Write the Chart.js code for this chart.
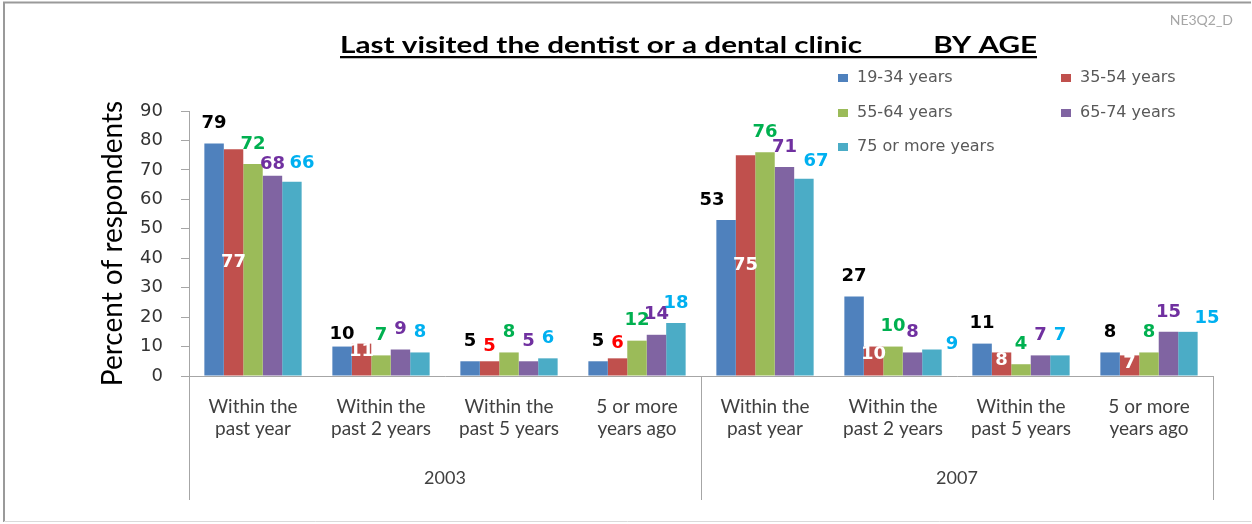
<!DOCTYPE html>
<html><head><meta charset="utf-8">
<script src="https://cdn.jsdelivr.net/npm/chart.js@4/dist/chart.umd.min.js"></script>
<style>html,body{margin:0;padding:0;background:#fff;overflow:hidden}#wrap{position:relative;width:1252px;height:524px}</style>
</head><body><div id="wrap"><canvas id="c" width="1252" height="524"></canvas></div>
<script>
const chartTitle = 'Last visited the dentist or a dental clinic';
const chartTitle2 = 'BY AGE';
const chartCode = 'NE3Q2_D';
const yAxisTitle = 'Percent of respondents';
const years = ['2003', '2007'];
const periods = [['Within the', 'past year'], ['Within the', 'past 2 years'], ['Within the', 'past 5 years'], ['5 or more', 'years ago']];
const categories = [...periods, ...periods];
const seriesNames = ['19-34 years', '35-54 years', '55-64 years', '65-74 years', '75 or more years'];
const age19to34 = [79, 10, 5, 5, 53, 27, 11, 8];
const age35to54 = [77, 11, 5, 6, 75, 10, 8, 7];
const age55to64 = [72, 7, 8, 12, 76, 10, 4, 8];
const age65to74 = [68, 9, 5, 14, 71, 8, 7, 15];
const age75plus = [66, 8, 6, 18, 67, 9, 7, 15];
const yTicks = [0, 10, 20, 30, 40, 50, 60, 70, 80, 90];

const seriesValues = [age19to34, age35to54, age55to64, age65to74, age75plus];
const barColors = ['#4F81BD', '#C0504D', '#9BBB59', '#8064A2', '#4BACC6'];
const labelColors = ['#000000', '#FF0000', '#00B050', '#7030A0', '#00B0F0'];
// small manual label nudges (series:index -> [dx, dy]) as in the original chart
const labelNudges = { '0:1': [0, 8], '0:4': [-14, 0], '3:0': [0, 9], '4:0': [10, 2], '4:4': [12, 3], '4:5': [20, 15], '4:7': [19, 6] };

const decor = {
  id: 'decor',
  afterDraw(chart) {
    const c = chart.ctx;
    c.save();
    // frame
    c.strokeStyle = '#9A9A9A'; c.lineWidth = 2;
    c.beginPath(); c.moveTo(4, 522); c.lineTo(4, 2.5); c.lineTo(1251, 2.5); c.stroke();
    c.strokeStyle = '#DADADA'; c.lineWidth = 1;
    c.beginPath(); c.moveTo(4, 521.5); c.lineTo(1251, 521.5); c.stroke();
    // code
    c.font = '14px Lato'; c.fillStyle = '#A6A6A6'; c.textAlign = 'right'; c.textBaseline = 'alphabetic';
    c.fillText(chartCode, 1233, 25);
    // title (horizontally stretched like the original)
    c.font = 'bold 22px Lato'; c.fillStyle = '#000'; c.textAlign = 'left';
    const w1 = c.measureText(chartTitle).width;
    const sx = 522 / w1;
    c.save(); c.translate(340, 53); c.scale(sx, 1);
    c.fillText(chartTitle, 0, 0);
    c.restore();
    const w2 = c.measureText(chartTitle2).width * sx;
    c.save(); c.translate(1037 - w2, 53); c.scale(sx, 1);
    c.fillText(chartTitle2, 0, 0);
    c.restore();
    c.fillStyle = '#000'; c.fillRect(340, 56, 697, 2);
    c.fillStyle = '#BBBBBB'; c.fillRect(340, 58, 697, 1);
    // legend
    const cols = [838, 1061], rows = [78, 113, 147];
    c.font = '16px "DejaVu Sans"'; c.textBaseline = 'middle'; c.textAlign = 'left';
    chart.data.datasets.forEach((ds, i) => {
      const x = cols[i % 2], y = rows[Math.floor(i / 2)];
      c.fillStyle = ds.backgroundColor; c.fillRect(x, y - 4, 10, 8);
      c.fillStyle = '#595959'; c.fillText(ds.label, x + 19, y);
    });
    // group separators
    const xs = chart.scales.x;
    const mid = (xs.getPixelForValue(3) + xs.getPixelForValue(4)) / 2;
    c.strokeStyle = '#A6A6A6'; c.lineWidth = 1;
    c.beginPath();
    [xs.left, mid, xs.right].forEach(px => { const p = Math.round(px) + 0.5; c.moveTo(p, xs.top); c.lineTo(p, 500); });
    c.stroke();
    // data labels
    c.font = 'bold 18px "DejaVu Sans"'; c.textAlign = 'center'; c.textBaseline = 'middle';
    chart.data.datasets.forEach((ds, i) => {
      const meta = chart.getDatasetMeta(i);
      meta.data.forEach((el, j) => {
        const v = ds.data[j];
        let x = el.x, y, col = labelColors[i];
        if (i === 1) {
          if (v <= 6) { y = el.y - 15; }
          else { col = '#FFFFFF'; y = (el.base - el.y > 60) ? (el.y + el.base) / 2 : el.y + 8; }
        } else {
          y = el.y - 20;
        }
        const n = labelNudges[i + ':' + j];
        if (n) { x += n[0]; y += n[1]; }
        c.fillStyle = col;
        c.fillText(String(v), x, y);
      });
    });
    c.restore();
  }
};

new Chart(document.getElementById('c'), {
  type: 'bar',
  data: {
    labels: categories,
    datasets: seriesValues.map((d, i) => ({
      label: seriesNames[i], data: d, backgroundColor: barColors[i], borderWidth: 0,
      categoryPercentage: 0.76, barPercentage: 1.0
    }))
  },
  options: {
    responsive: false, animation: false, devicePixelRatio: 1,
    layout: { padding: { top: 111, right: 39, bottom: 18, left: 0 } },
    plugins: { legend: { display: false }, title: { display: false }, tooltip: { enabled: false } },
    scales: {
      x: {
        type: 'category', offset: true,
        grid: { display: false },
        border: { display: true, color: '#A6A6A6', width: 1 },
        ticks: { font: { family: 'Lato', size: 19, lineHeight: 1.15 }, color: '#404040', padding: 12, maxRotation: 0, autoSkip: false },
        afterFit: s => { s.height = 70; }
      },
      x2: {
        type: 'category', labels: years, position: 'bottom', offset: true,
        grid: { display: false }, border: { display: false },
        ticks: { font: { family: 'Lato', size: 18 }, color: '#404040', padding: 13, maxRotation: 0 },
        afterFit: s => { s.height = 60; }
      },
      y: {
        min: 0, max: 90,
        afterBuildTicks: s => { s.ticks = yTicks.map(v => ({ value: v })); },
        ticks: { font: { family: 'DejaVu Sans', size: 18 }, color: '#333333', padding: 18 },
        grid: { drawOnChartArea: false, drawTicks: true, tickLength: 8, color: '#A6A6A6' },
        border: { display: true, color: '#A6A6A6', width: 1 },
        title: { display: true, text: yAxisTitle, font: { family: 'Lato', size: 28 }, color: '#000', padding: { top: 96, bottom: 0 } },
        afterFit: s => { s.width = 189; }
      }
    }
  },
  plugins: [decor]
});
</script>
</body></html>
